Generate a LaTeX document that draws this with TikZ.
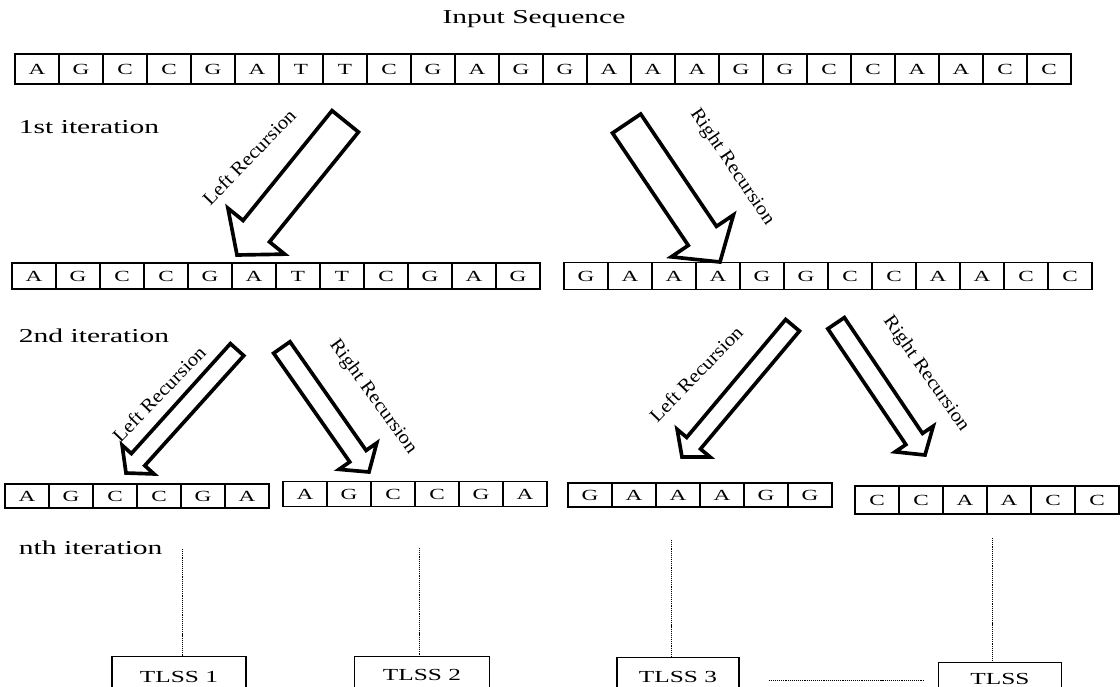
\documentclass[tikz,border=0pt]{standalone}
\usepackage{fontspec}
\setmainfont{Liberation Serif}[FakeStretch=1.5]
\newfontfamily\recfont{Liberation Serif}[FakeStretch=1.1]
\usepackage{tikz}
\usetikzlibrary{%
	calc%
}

\tikzset{
	cell/.style={draw, line width=0.8pt, inner sep=0pt, minimum width=1.1cm, font=\fontsize{11}{13}\selectfont},
	lbl/.style={font=\fontsize{14}{16}\selectfont, anchor=west},
	rec/.style={font=\recfont\fontsize{13.5}{15}\selectfont},
	fat/.style={draw, line width=2.6pt, line join=miter},
	leaf/.style={draw, line width=0.8pt, inner sep=0pt, anchor=north, text depth=0.6cm, font=\fontsize{12}{14}\selectfont},
	dotline/.style={line width=0.7pt, dash pattern=on 0.8pt off 0.7pt}
}

% one row of bases: name, left edge, centre y, height, bases
\newcommand{\seqrow}[5]{%
	\foreach \base [count=\k] in {#5}
		\node[cell, minimum height=#4] (#1-\k) at ({#2+(\k-0.5)*44},#3) {\base};
}

% hollow arrow: name, tip, angle, length, shaft half width, head half width
\newcommand{\fatarrow}[6]{%
	\coordinate (#1) at (#2);
	\begin{scope}[shift={(#1)}, rotate=#3]
		\draw[fat] (0,0) -- ({-0.84*#6},#6) -- ({-0.84*#6},#5) -- (-#4,#5)
			-- (-#4,-#5) -- ({-0.84*#6},-#5) -- ({-0.84*#6},-#6) -- cycle;
	\end{scope}
}

\begin{document}
\begin{tikzpicture}[x=0.025cm, y=-0.025cm]
		\useasboundingbox (0,0) rectangle (1120,686);
		\clip (0,0) rectangle (1120,686);

		% Labels
		\node[font=\fontsize{14}{16}\selectfont] (title) at (534,19) {Input Sequence};
		\node[lbl] (it1) at (14,127) {1st iteration};
		\node[lbl] (it2) at (14,336) {2nd iteration};
		\node[lbl] (itn) at (14,548) {nth iteration};

		% Sequences
		\seqrow{s}{15}{69}{0.75cm}{A,G,C,C,G,A,T,T,C,G,A,G,G,A,A,A,G,G,C,C,A,A,C,C}
		\seqrow{l}{12}{276}{0.65cm}{A,G,C,C,G,A,T,T,C,G,A,G}
		\seqrow{r}{564}{276}{0.67cm}{G,A,A,A,G,G,C,C,A,A,C,C}
		\seqrow{ll}{5}{496}{0.6cm}{A,G,C,C,G,A}
		\seqrow{lr}{283}{494}{0.62cm}{A,G,C,C,G,A}
		\seqrow{rl}{568}{495}{0.6cm}{G,A,A,A,G,G}
		\seqrow{rr}{855}{500}{0.7cm}{C,C,A,A,C,C}

		% Recursion arrows
		\fatarrow{a1l}{237,255}{231}{172}{17}{36.5}
		\fatarrow{a1r}{720,262}{-56}{167}{17}{37.5}
		\fatarrow{a2l}{126,473}{228}{166}{9}{21.5}
		\fatarrow{a2r}{369,472}{-55}{152}{10}{23}
		\fatarrow{a3l}{682,457}{230}{172}{9}{21.5}
		\fatarrow{a3r}{925,455}{-56}{159}{10}{23}

		\node[rec, rotate=46] (t1l) at (249,157) {Left Recursion};
		\node[rec, rotate=-56] (t1r) at (732,167) {Right Recursion};
		\node[rec, rotate=46] (t2l) at (159,394) {Left Recursion};
		\node[rec, rotate=-54] (t2r) at (373,397) {Right Recursion};
		\node[rec, rotate=46] (t3l) at (696,374) {Left Recursion};
		\node[rec, rotate=-55] (t3r) at (926,374) {Right Recursion};

		% Results
		\node[leaf, minimum width=3.35cm, text height=0.65cm] (tl1) at (179,656) {TLSS 1};
		\node[leaf, minimum width=3.375cm, text height=0.6cm] (tl2) at (422,656) {TLSS 2};
		\node[leaf, minimum width=3.05cm, text height=0.625cm] (tl3) at (678,657) {TLSS 3};
		\node[leaf, minimum width=3.075cm, text height=0.55cm] (tl4) at (1000,662) {TLSS};

		% Dotted links
		\coordinate (v1) at (182,549);
		\coordinate (v2) at (419,548);
		\coordinate (v3) at (671,540);
		\coordinate (v4) at (992,538);
		\draw[dotline] (v1) -- (v1 |- tl1.north);
		\draw[dotline] (v2) -- (v2 |- tl2.north);
		\draw[dotline] (v3) -- (v3 |- tl3.north);
		\draw[dotline] (v4) -- (v4 |- tl4.north);
		\draw[dotline] ($(tl3.north east)+(29,23)$) -- ($(tl4.north west)+(-15,18)$);
	\end{tikzpicture}
\end{document}
